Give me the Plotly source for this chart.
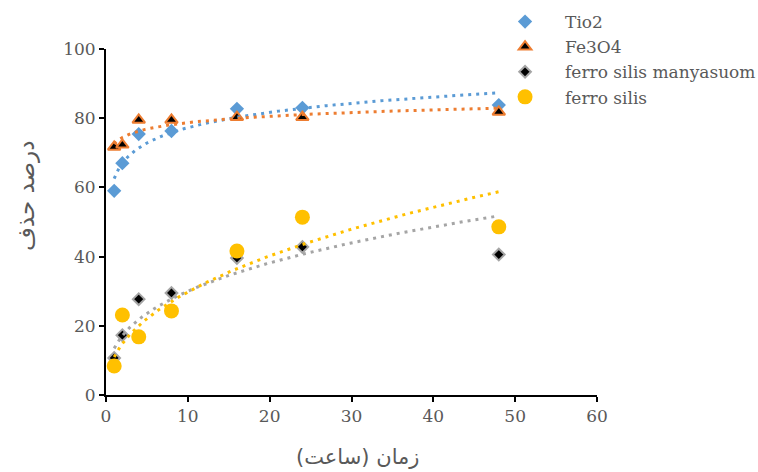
import numpy as np
import plotly.graph_objects as go

hours = [1, 2, 4, 8, 16, 24, 48]
tio2 = [59.0, 67.0, 75.4, 76.3, 82.7, 83.0, 83.8]
fe3o4 = [71.7, 72.3, 79.5, 79.5, 80.3, 80.3, 81.8]
fs_many = [10.7, 17.3, 27.7, 29.5, 39.6, 42.8, 40.6]
fs = [8.4, 23.1, 16.8, 24.3, 41.6, 51.4, 48.6]

names = ["Tio2", "Fe3O4", "ferro silis manyasuom", "ferro silis"]
x_ticks = [0, 10, 20, 30, 40, 50, 60]
y_ticks = [0, 20, 40, 60, 80, 100]

BLUE, ORANGE, GRAY, YELLOW = "#5B9BD5", "#ED7D31", "#A5A5A5", "#FFC000"
TXT = "#595959"
SERIF = "DejaVu Serif"

x = np.array(hours, dtype=float)
xs = np.linspace(1, 48, 200)


def log_fit(y):
    b, a = np.polyfit(np.log(x), np.array(y), 1)
    return a + b * np.log(xs)


def pow_fit(y):
    b, lna = np.polyfit(np.log(x), np.log(np.array(y)), 1)
    return np.exp(lna) * xs ** b


fig = go.Figure()

fig.add_trace(go.Scatter(x=hours, y=tio2, mode="markers", name=names[0],
                         marker=dict(symbol="diamond", size=11, color=BLUE,
                                     line=dict(width=0))))
fig.add_trace(go.Scatter(x=hours, y=fe3o4, mode="markers", name=names[1],
                         marker=dict(symbol="triangle-up", size=11, color="black",
                                     line=dict(width=2, color=ORANGE))))
fig.add_trace(go.Scatter(x=hours, y=fs_many, mode="markers", name=names[2],
                         marker=dict(symbol="diamond", size=9, color="black",
                                     line=dict(width=2, color=GRAY))))
fig.add_trace(go.Scatter(x=hours, y=fs, mode="markers", name=names[3],
                         marker=dict(symbol="circle", size=15, color=YELLOW,
                                     line=dict(width=0))))

dash = "3px,5px"
for yy, col, fit in [(tio2, BLUE, log_fit), (fe3o4, ORANGE, log_fit),
                     (fs_many, GRAY, pow_fit), (fs, YELLOW, pow_fit)]:
    fig.add_trace(go.Scatter(x=xs, y=fit(yy), mode="lines", showlegend=False,
                             hoverinfo="skip",
                             line=dict(color=col, width=3, dash=dash)))

axis_common = dict(showgrid=False, zeroline=False, showline=True,
                   linecolor="black", linewidth=2, ticks="outside",
                   ticklen=5, tickwidth=1.5, tickcolor="black",
                   tickfont=dict(family=SERIF, size=17, color=TXT))

fig.update_xaxes(range=[0, 60], tickvals=x_ticks, **axis_common)
fig.update_yaxes(range=[0, 100], tickvals=y_ticks, **axis_common)

fig.add_annotation(text="درصد حذف", xref="paper", yref="paper",
                   x=-0.163, y=0.575, textangle=-90, showarrow=False,
                   xanchor="center", yanchor="middle",
                   font=dict(family="DejaVu Sans", size=23, color=TXT))
fig.add_annotation(text="زمان (ساعت)", xref="paper", yref="paper",
                   x=0.512, y=-0.18, showarrow=False,
                   xanchor="center", yanchor="middle",
                   font=dict(family="DejaVu Sans", size=21, color=TXT))

fig.update_layout(
    width=758, height=472,
    margin=dict(l=106, r=161, t=49, b=77, autoexpand=False),
    plot_bgcolor="white", paper_bgcolor="white",
    legend=dict(x=0.772, y=1.13, xanchor="left", yanchor="top",
                font=dict(family=SERIF, size=17, color=TXT),
                bgcolor="rgba(0,0,0,0)", tracegroupgap=0, itemwidth=70),
)

fig.write_html("out.html")
